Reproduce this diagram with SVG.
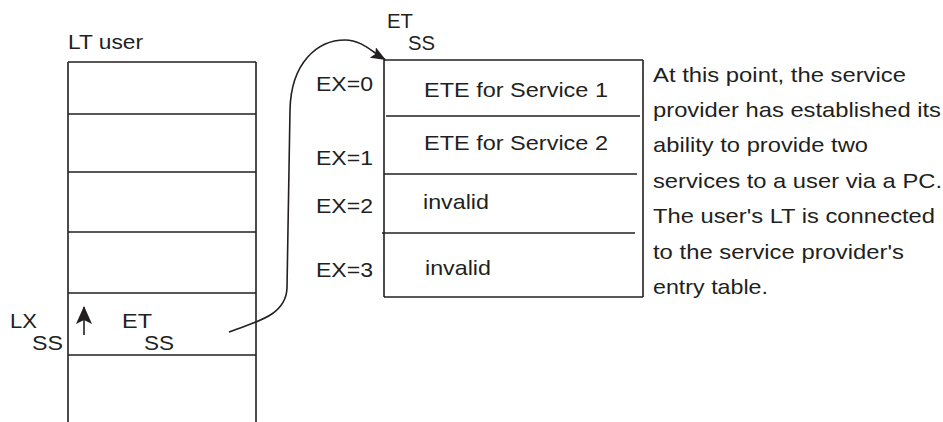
<svg xmlns="http://www.w3.org/2000/svg" width="943" height="422" viewBox="0 0 943 422">
  <style>
    .ln { stroke: #231f20; stroke-width: 1.6; fill: none; }
    .t { font-family: "Liberation Sans", Arial, Helvetica, sans-serif; font-size: 21px; fill: #231f20; }
  </style>
  <defs>
    <marker id="head" viewBox="0 0 15 12" refX="14" refY="6" markerWidth="15" markerHeight="12" markerUnits="userSpaceOnUse" orient="auto">
      <path d="M0,0 L15,6 L0,12 L3,6 z" fill="#231f20"/>
    </marker>
    <marker id="headUp" viewBox="0 0 18 16" refX="17" refY="8" markerWidth="18" markerHeight="16" markerUnits="userSpaceOnUse" orient="auto">
      <path d="M0,0 L18,8 L0,16 L4,8 z" fill="#231f20"/>
    </marker>
  </defs>
  <rect width="943" height="422" fill="#ffffff"/>

  <g id="lt-user">
    <text class="t" x="68" y="49" textLength="75" lengthAdjust="spacingAndGlyphs">LT user</text>
    <line class="ln" x1="68" y1="62" x2="68" y2="422"/>
    <line class="ln" x1="256" y1="62" x2="256" y2="422"/>
    <line class="ln" x1="68" y1="62" x2="256" y2="62"/>
    <line class="ln" x1="68" y1="114" x2="256" y2="114"/>
    <line class="ln" x1="68" y1="172" x2="256" y2="172"/>
    <line class="ln" x1="68" y1="232" x2="256" y2="232"/>
    <line class="ln" x1="68" y1="293" x2="256" y2="293"/>
    <line class="ln" x1="68" y1="355" x2="256" y2="355"/>
    <text class="t" x="10" y="328" textLength="27" lengthAdjust="spacingAndGlyphs">LX</text>
    <text class="t" x="32" y="350" textLength="31" lengthAdjust="spacingAndGlyphs">SS</text>
    <text class="t" x="122" y="328" textLength="30" lengthAdjust="spacingAndGlyphs">ET</text>
    <text class="t" x="144" y="350" textLength="30" lengthAdjust="spacingAndGlyphs">SS</text>
  </g>

  <g id="entry-table">
    <text class="t" x="387" y="28" textLength="26" lengthAdjust="spacingAndGlyphs">ET</text>
    <text class="t" x="408" y="50" textLength="27" lengthAdjust="spacingAndGlyphs">SS</text>
    <line class="ln" x1="384" y1="60" x2="643" y2="60"/>
    <line class="ln" x1="384" y1="60" x2="384" y2="297"/>
    <line class="ln" x1="643" y1="60" x2="643" y2="297"/>
    <line class="ln" x1="384" y1="297" x2="643" y2="297"/>
    <line class="ln" x1="386" y1="116" x2="640" y2="116"/>
    <line class="ln" x1="384" y1="174" x2="637" y2="174"/>
    <line class="ln" x1="382" y1="233" x2="635" y2="233"/>
    <text class="t" x="316" y="91" textLength="57" lengthAdjust="spacingAndGlyphs">EX=0</text>
    <text class="t" x="316" y="165" textLength="57" lengthAdjust="spacingAndGlyphs">EX=1</text>
    <text class="t" x="316" y="213" textLength="57" lengthAdjust="spacingAndGlyphs">EX=2</text>
    <text class="t" x="316" y="277" textLength="57" lengthAdjust="spacingAndGlyphs">EX=3</text>
    <text class="t" x="424" y="97" textLength="184" lengthAdjust="spacingAndGlyphs">ETE for Service 1</text>
    <text class="t" x="424" y="150" textLength="184" lengthAdjust="spacingAndGlyphs">ETE for Service 2</text>
    <text class="t" x="423" y="209" textLength="66" lengthAdjust="spacingAndGlyphs">invalid</text>
    <text class="t" x="425" y="275" textLength="66" lengthAdjust="spacingAndGlyphs">invalid</text>
  </g>

  <g id="note">
    <text class="t" x="653" y="82" textLength="253" lengthAdjust="spacingAndGlyphs">At this point, the service</text>
    <text class="t" x="653" y="117" textLength="288" lengthAdjust="spacingAndGlyphs">provider has established its</text>
    <text class="t" x="653" y="152" textLength="215" lengthAdjust="spacingAndGlyphs">ability to provide two</text>
    <text class="t" x="653" y="188" textLength="289" lengthAdjust="spacingAndGlyphs">services to a user via a PC.</text>
    <text class="t" x="653" y="223" textLength="282" lengthAdjust="spacingAndGlyphs">The user's LT is connected</text>
    <text class="t" x="653" y="259" textLength="251" lengthAdjust="spacingAndGlyphs">to the service provider's</text>
    <text class="t" x="653" y="294" textLength="115" lengthAdjust="spacingAndGlyphs">entry table.</text>
  </g>

  <g id="connectors">
    <path class="ln" d="M229,332 C255,322 286,316 287,288 L290,110 C291,62 318,40 345,40 C362,40 372,52 385,59.5" marker-end="url(#head)"/>
    <line class="ln" x1="84" y1="335" x2="84" y2="307" marker-end="url(#headUp)"/>
  </g>
</svg>
